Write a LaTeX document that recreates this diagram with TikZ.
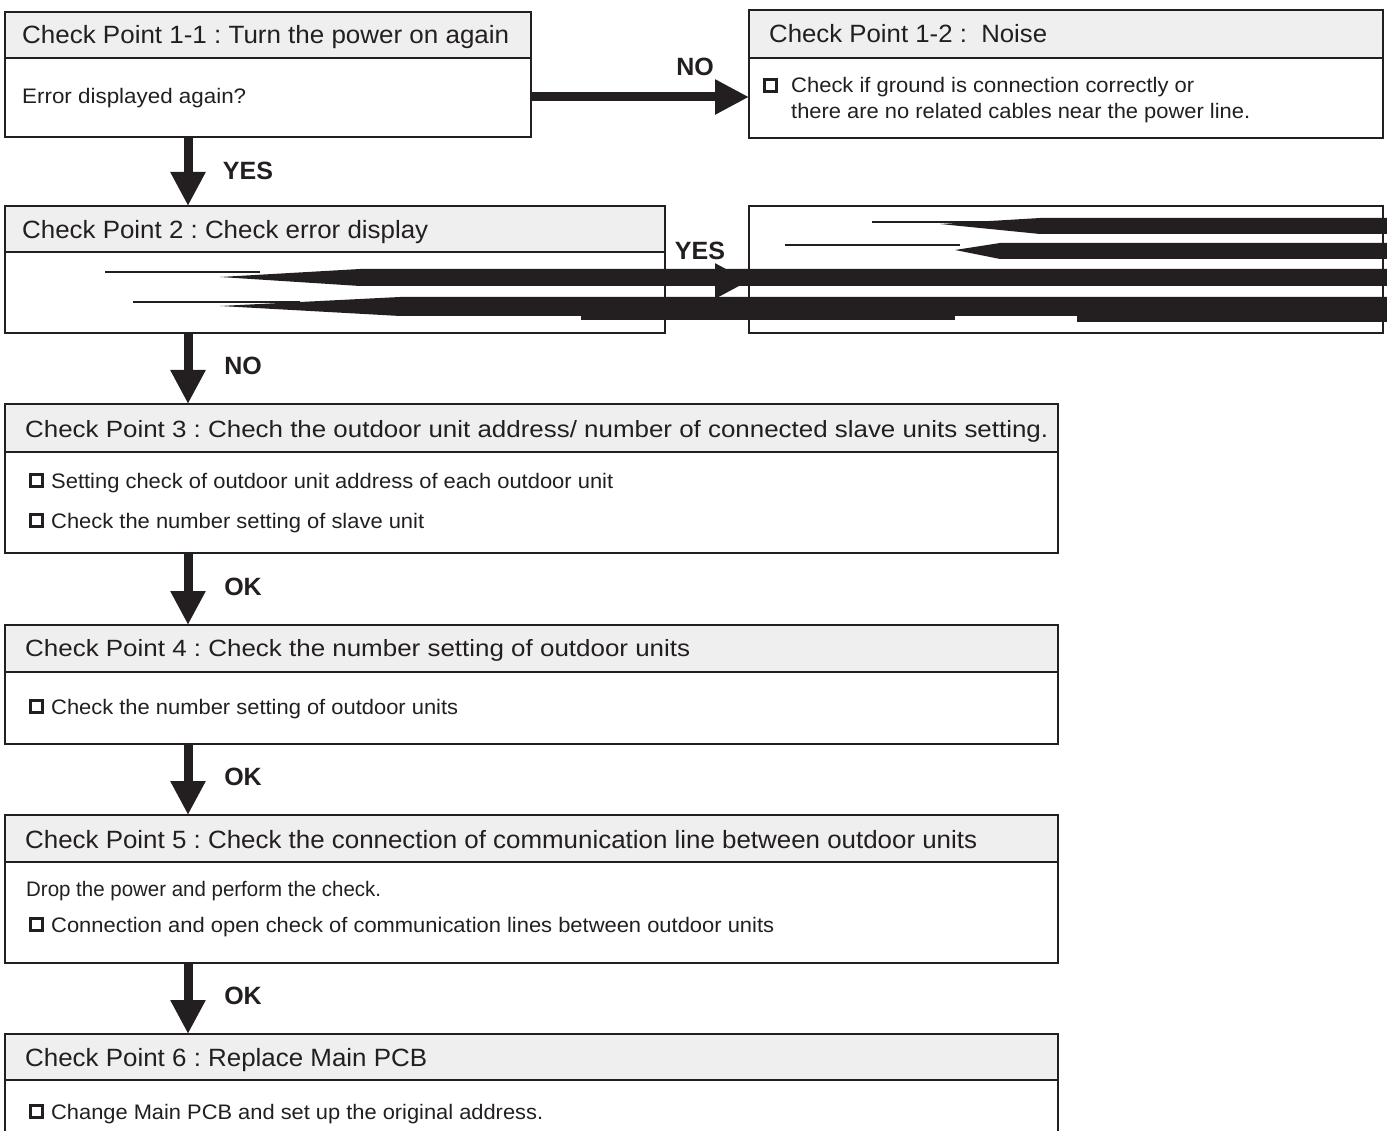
\documentclass[tikz,border=0pt]{standalone}
\usepackage{fontspec}
\setmainfont{Liberation Sans}
\usetikzlibrary{arrows.meta}
\definecolor{ink}{HTML}{231F20}
\definecolor{hdrgray}{HTML}{EFEFF0}
\newcommand\fw[2]{\resizebox{#1pt}{\height}{#2}}
\newcommand\cpbox[6]{%
  \node[bdy, anchor=north west, minimum width=#4-#2, minimum height=#5-#3] (#1) at (#2,#3) {};
  \node[hdr, anchor=north west, minimum width=#4-#2, minimum height=#6-#3] (#1h) at (#2,#3) {};
}
\frenchspacing
\begin{document}
\begin{tikzpicture}[x=1pt,y=-1pt,
  hdr/.style={draw=ink, fill=hdrgray, line width=2.2pt, inner sep=0, outer sep=0},
  bdy/.style={draw=ink, fill=white, line width=2.2pt, inner sep=0, outer sep=0},
  htxt/.style={anchor=base west, inner sep=0, text=ink, font=\fontsize{23.5}{28}\selectfont},
  hntxt/.style={anchor=base west, inner sep=0, text=ink, font=\fontsize{25}{30}\selectfont},
  btxt/.style={anchor=base west, inner sep=0, text=ink, font=\fontsize{21}{25}\selectfont},
  lbl/.style={anchor=center, inner sep=0, text=ink, font=\fontsize{25}{30}\selectfont\bfseries},
  chk/.style={draw=ink, line width=3pt, minimum size=12pt, inner sep=0, anchor=center},
  arr/.style={draw=ink, line width=9pt, -{Triangle[length=34pt,width=33pt]}},
  streak/.style={fill=ink},
  lead/.style={draw=ink, line width=1.2pt}
]
\useasboundingbox (0,0) rectangle (1387,1131);
\clip (0,0) rectangle (1387,1131);
\fill[white] (0,0) rectangle (1387,1131);

% boxes
\cpbox{b11}{5}{12}{531}{137}{58}
\cpbox{b12}{749}{10}{1383}{138}{58}
\cpbox{b2}{5}{206}{665}{333}{252}
\node[bdy, anchor=north west, minimum width=634, minimum height=127] (b2r) at (749,206) {};
\cpbox{b3}{5}{404}{1058}{553}{452}
\cpbox{b4}{5}{625}{1058}{744}{672}
\cpbox{b5}{5}{815}{1058}{963}{862}
\cpbox{b6}{5}{1034}{1058}{1145}{1080}

% header texts
\node[hntxt] (t11h) at (22,43.5) {\fw{487}{Check Point 1-1 : Turn the power on again}};
\node[hntxt] (t12h) at (769,42.5) {\fw{278}{Check Point 1-2 :\ \ Noise}};
\node[hntxt] (t2h) at (22,238.5) {\fw{406}{Check Point 2 : Check error display}};
\node[htxt] (t3h) at (25,437.5) {\fw{1023}{Check Point 3 : Chech the outdoor unit address/ number of connected slave units setting.}};
\node[htxt] (t4h) at (25,656.5) {\fw{665}{Check Point 4 : Check the number setting of outdoor units}};
\node[hntxt] (t5h) at (25,848.5) {\fw{952}{Check Point 5 : Check the connection of communication line between outdoor units}};
\node[hntxt] (t6h) at (25,1066.5) {\fw{402}{Check Point 6 : Replace Main PCB}};

% body texts
\node[btxt] (t11b) at (22,104) {\fw{224}{Error displayed again?}};
\node[chk] (c12) at (770,86) {};
\node[btxt] (t12b1) at (791,93) {\fw{403}{Check if ground is connection correctly or}};
\node[btxt] (t12b2) at (791,119) {\fw{459}{there are no related cables near the power line.}};
\node[chk] (c31) at (36,480) {};
\node[btxt] (t31) at (51,488) {\fw{562}{Setting check of outdoor unit address of each outdoor unit}};
\node[chk] (c32) at (36,520) {};
\node[btxt] (t32) at (51,528) {\fw{373}{Check the number setting of slave unit}};
\node[chk] (c4) at (36,706) {};
\node[btxt] (t4) at (51,714) {\fw{407}{Check the number setting of outdoor units}};
\node[btxt] (t51) at (26,896) {\fw{355}{Drop the power and perform the check.}};
\node[chk] (c5) at (36,924) {};
\node[btxt] (t52) at (51,932) {\fw{723}{Connection and open check of communication lines between outdoor units}};
\node[chk] (c6) at (36,1111) {};
\node[btxt] (t6) at (51,1119) {\fw{492}{Change Main PCB and set up the original address.}};

% arrows
\coordinate (n1) at ([yshift=-22.5pt]b11.east);
\draw[arr] (n1) -- (n1 -| b12.west);
\coordinate (y2) at ([yshift=-11.5pt]b2.east);
\draw[arr] (y2) -- (y2 -| b2r.west);
\draw[arr] ([xshift=183pt]b11.south west) -- ([xshift=183pt]b2.north west);
\draw[arr] ([xshift=183pt]b2.south west) -- ([xshift=183pt]b3.north west);
\draw[arr] ([xshift=183pt]b3.south west) -- ([xshift=183pt]b4.north west);
\draw[arr] ([xshift=183pt]b4.south west) -- ([xshift=183pt]b5.north west);
\draw[arr] ([xshift=183pt]b5.south west) -- ([xshift=183pt]b6.north west);

% labels
\node[lbl] (l1) at (695,67) {NO};
\node[lbl] (l2) at (248,171) {YES};
\node[lbl] (l3) at (700,251) {YES};
\node[lbl] (l4) at (243,366) {NO};
\node[lbl] (l5) at (243,587) {OK};
\node[lbl] (l6) at (243,777) {OK};
\node[lbl] (l7) at (243,996) {OK};

% streaks
\fill[streak] (220,277) -- (360,269) -- (1387,269) -- (1387,286) -- (360,286) -- cycle;
\draw[lead] (105,272) -- (260,272);
\fill[streak] (220,306) -- (400,297) -- (1387,297) -- (1387,316) -- (400,316) -- cycle;
\fill[streak] (581,314) rectangle (955,320);
\fill[streak] (1077,314) rectangle (1387,322);
\draw[lead] (133,302) -- (300,302);
\fill[streak] (940,224) -- (1040,218) -- (1387,218) -- (1387,234) -- (1040,234) -- cycle;
\draw[lead] (872,222) -- (1000,222);
\fill[streak] (955,250) -- (1000,243) -- (1387,243) -- (1387,259) -- (1000,259) -- cycle;
\draw[lead] (785,245) -- (960,245);
\end{tikzpicture}
\end{document}
